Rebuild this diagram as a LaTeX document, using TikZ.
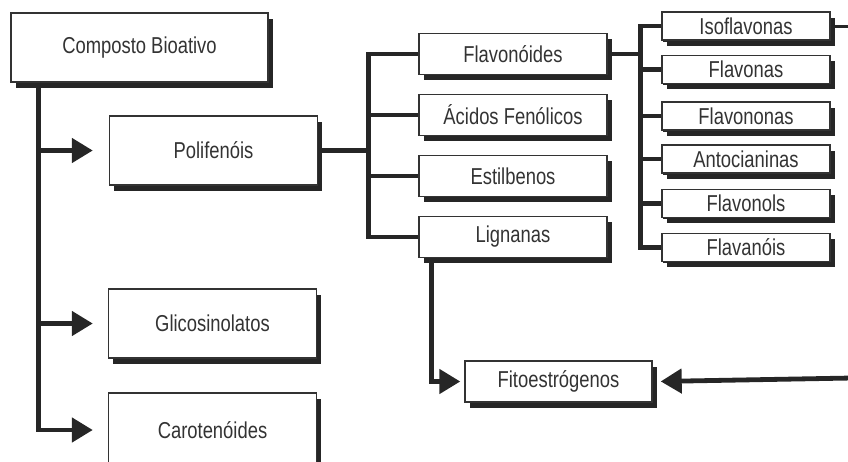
\documentclass[tikz,border=0pt]{standalone}
\usepackage{fontspec}
\setmainfont[FakeStretch=0.8]{Liberation Sans}
\usetikzlibrary{arrows.meta,shadows}

\begin{document}
\begin{tikzpicture}[x=1pt, y=-1pt,
  bigbox/.style={draw=black!80, line width=1.4pt, fill=white, text=black!80,
    minimum width=208pt, minimum height=69pt, inner sep=0pt,
    font=\fontsize{23}{26}\selectfont,
    drop shadow={shadow xshift=4.5pt, shadow yshift=-5.5pt, fill=black!85, opacity=1}},
  midbox/.style={bigbox, minimum width=188pt, minimum height=41pt},
  smallbox/.style={bigbox, minimum width=168pt, minimum height=28pt,
    line width=1.8pt,
    drop shadow={shadow xshift=1pt, shadow yshift=-1.5pt, fill=black!85, opacity=1}},
  link/.style={line width=4.8pt, draw=black!85},
  arrow/.style={link, -{Triangle[length=21pt, width=24pt]}}]
\useasboundingbox (0,0) rectangle (848,461);

% main column
\node[bigbox, minimum width=257pt] (comp) at (139.5,47.5) {Composto Bioativo};
\node[bigbox] (poli) at (213.5,150.5) {Polifenóis};
\node[bigbox] (glic) at (212.5,323.5) {Glicosinolatos};
\node[bigbox, minimum height=74pt] (caro) at (212.5,430) {Carotenóides};

% polyphenol classes
\node[midbox] (flav) at (513,54) {Flavonóides};
\node[midbox] (acid) at (513,115) {Ácidos Fenólicos};
\node[midbox] (esti) at (513,176) {Estilbenos};
\node[midbox] (lign) at (513,237) {Lignanas};

% flavonoid classes
\node[smallbox] (iso) at (746,26) {Isoflavonas};
\node[smallbox] (flvn) at (746,69.5) {Flavonas};
\node[smallbox] (flvnn) at (746,116) {Flavononas};
\node[smallbox] (anto) at (746,159) {Antocianinas};
\node[smallbox] (flvl) at (746,203.5) {Flavonols};
\node[smallbox] (flvo) at (746,247.5) {Flavanóis};

\node[midbox, minimum width=187pt] (fito) at (558.5,381.5) {Fitoestrógenos};

\coordinate (isoEnd) at (852,26);
\coordinate (fitoIn) at (852,378);

\draw[arrow, shorten >=16pt] ([xshift=28pt]comp.south west) |- (poli.west);
\draw[arrow, shorten >=15pt] ([xshift=28pt]comp.south west) |- (glic.west);
\draw[arrow, shorten >=15pt] ([xshift=28pt]comp.south west) |- (caro.west);

\draw[link] ([xshift=4pt]poli.east) -- ++(46,0) |- (flav.west);
\draw[link] ([xshift=4pt]poli.east) -- ++(46,0) |- (acid.west);
\draw[link] ([xshift=4pt]poli.east) -- ++(46,0) |- (esti.west);
\draw[link] ([xshift=4pt]poli.east) -- ++(46,0) |- (lign.west);

\draw[link] ([xshift=4pt]flav.east) -- ++(29,0) |- (iso.west);
\draw[link] ([xshift=4pt]flav.east) -- ++(29,0) |- (flvn.west);
\draw[link] ([xshift=4pt]flav.east) -- ++(29,0) |- (flvnn.west);
\draw[link] ([xshift=4pt]flav.east) -- ++(29,0) |- (anto.west);
\draw[link] ([xshift=4pt]flav.east) -- ++(29,0) |- (flvl.west);
\draw[link] ([xshift=4pt]flav.east) -- ++(29,0) |- (flvo.west);

\draw[link, line width=3pt] (iso.east) -- (isoEnd);

\draw[arrow, shorten >=4pt] ([xshift=13pt]lign.south west) |- (fito.west);
\draw[arrow, shorten >=4pt] (fitoIn) -- ([xshift=4pt]fito.east);
\end{tikzpicture}
\end{document}
